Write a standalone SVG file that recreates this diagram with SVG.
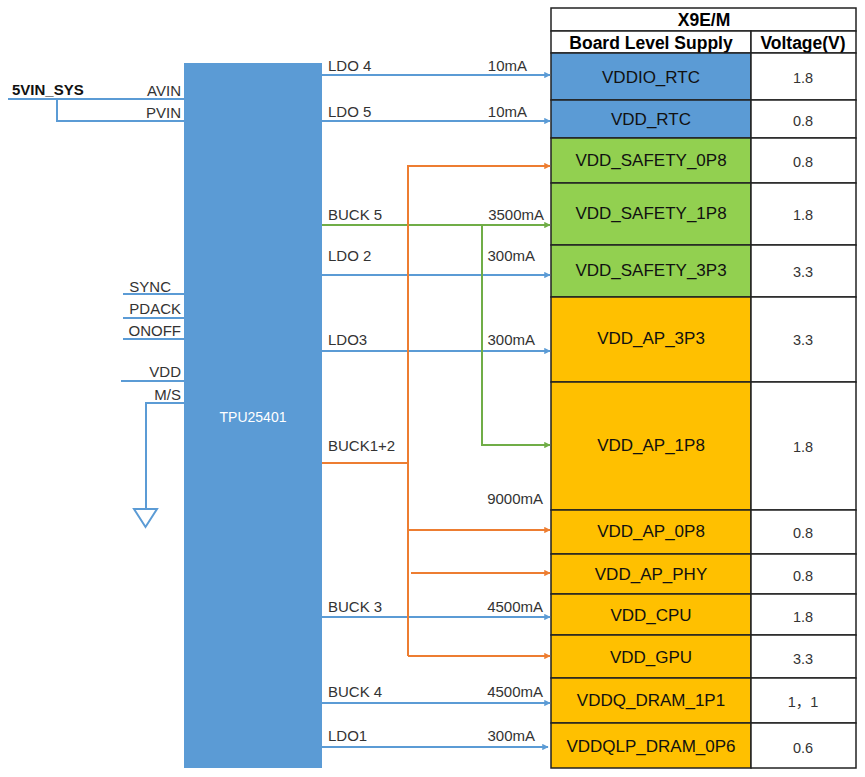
<svg xmlns="http://www.w3.org/2000/svg" width="865" height="777" viewBox="0 0 865 777">
<defs>
<marker id="ab" viewBox="0 0 10 10" refX="9" refY="5" markerWidth="3.2" markerHeight="3.2" orient="auto" markerUnits="strokeWidth"><path d="M0,0 L10,5 L0,10 z" fill="#5B9BD5"/></marker>
<marker id="ao" viewBox="0 0 10 10" refX="9" refY="5" markerWidth="3.2" markerHeight="3.2" orient="auto" markerUnits="strokeWidth"><path d="M0,0 L10,5 L0,10 z" fill="#ED7D31"/></marker>
<marker id="ag" viewBox="0 0 10 10" refX="9" refY="5" markerWidth="3.2" markerHeight="3.2" orient="auto" markerUnits="strokeWidth"><path d="M0,0 L10,5 L0,10 z" fill="#70AD47"/></marker>
</defs>
<style>
text{font-family:"Liberation Sans",Arial,"Noto Sans CJK SC",sans-serif;}
.lbl{font-size:15px;fill:#333;}
.pin{font-size:15px;fill:#333;text-anchor:end;}
.cell{font-size:17px;fill:#111;text-anchor:middle;}
.volt{font-size:14.5px;fill:#333;text-anchor:middle;}
.hdr{font-size:17.5px;font-weight:bold;fill:#000;text-anchor:middle;}
.bl{stroke:#5B9BD5;stroke-width:2;fill:none;}
.or{stroke:#ED7D31;stroke-width:2;fill:none;}
.gr{stroke:#70AD47;stroke-width:2;fill:none;}
.tb{stroke:#222;stroke-width:1.5;}
</style>
<rect width="865" height="777" fill="#fff"/>

<g id="tpu">
<rect x="184" y="63" width="138" height="705" fill="#5B9BD5"/>
<text x="253" y="422" font-size="14" fill="#fff" text-anchor="middle">TPU25401</text>
</g>

<g id="left-pins">
<text x="12" y="95" font-size="15" font-weight="bold" fill="#111">5VIN_SYS</text>
<text class="pin" x="181" y="96">AVIN</text>
<text class="pin" x="181" y="118">PVIN</text>
<text class="pin" x="171" y="292">SYNC</text>
<text class="pin" x="181" y="314">PDACK</text>
<text class="pin" x="181" y="336">ONOFF</text>
<text class="pin" x="181" y="377">VDD</text>
<text class="pin" x="181" y="400">M/S</text>
<polygon points="134,509 157,509 145.5,527" fill="#fff" stroke="#5B9BD5" stroke-width="2"/>
</g>

<g id="table">
<rect x="551" y="8" width="305" height="23" fill="#fff" class="tb"/>
<text class="hdr" x="704" y="26" font-size="18px">X9E/M</text>
<rect x="551" y="31" width="200" height="22" fill="#fff" class="tb"/>
<rect x="751" y="31" width="105" height="22" fill="#fff" class="tb"/>
<text class="hdr" x="651" y="49">Board Level Supply</text>
<text class="hdr" x="803" y="49">Voltage(V)</text>

<g id="r1"><rect x="551" y="53" width="200" height="47" fill="#5B9BD5" class="tb"/><rect x="751" y="53" width="105" height="47" fill="#fff" class="tb"/><text class="cell" x="651" y="83">VDDIO_RTC</text><text class="volt" x="803" y="83">1.8</text></g>
<g id="r2"><rect x="551" y="100" width="200" height="38" fill="#5B9BD5" class="tb"/><rect x="751" y="100" width="105" height="38" fill="#fff" class="tb"/><text class="cell" x="651" y="125">VDD_RTC</text><text class="volt" x="803" y="126">0.8</text></g>
<g id="r3"><rect x="551" y="138" width="200" height="45" fill="#92D050" class="tb"/><rect x="751" y="138" width="105" height="45" fill="#fff" class="tb"/><text class="cell" x="651" y="166">VDD_SAFETY_0P8</text><text class="volt" x="803" y="167">0.8</text></g>
<g id="r4"><rect x="551" y="183" width="200" height="62" fill="#92D050" class="tb"/><rect x="751" y="183" width="105" height="62" fill="#fff" class="tb"/><text class="cell" x="651" y="219">VDD_SAFETY_1P8</text><text class="volt" x="803" y="220">1.8</text></g>
<g id="r5"><rect x="551" y="245" width="200" height="52" fill="#92D050" class="tb"/><rect x="751" y="245" width="105" height="52" fill="#fff" class="tb"/><text class="cell" x="651" y="276">VDD_SAFETY_3P3</text><text class="volt" x="803" y="277">3.3</text></g>
<g id="r6"><rect x="551" y="297" width="200" height="85" fill="#FFC000" class="tb"/><rect x="751" y="297" width="105" height="85" fill="#fff" class="tb"/><text class="cell" x="651" y="344">VDD_AP_3P3</text><text class="volt" x="803" y="345">3.3</text></g>
<g id="r7"><rect x="551" y="382" width="200" height="128" fill="#FFC000" class="tb"/><rect x="751" y="382" width="105" height="128" fill="#fff" class="tb"/><text class="cell" x="651" y="451">VDD_AP_1P8</text><text class="volt" x="803" y="452">1.8</text></g>
<g id="r8"><rect x="551" y="510" width="200" height="44" fill="#FFC000" class="tb"/><rect x="751" y="510" width="105" height="44" fill="#fff" class="tb"/><text class="cell" x="651" y="537">VDD_AP_0P8</text><text class="volt" x="803" y="538">0.8</text></g>
<g id="r9"><rect x="551" y="554" width="200" height="40" fill="#FFC000" class="tb"/><rect x="751" y="554" width="105" height="40" fill="#fff" class="tb"/><text class="cell" x="651" y="580">VDD_AP_PHY</text><text class="volt" x="803" y="581">0.8</text></g>
<g id="r10"><rect x="551" y="594" width="200" height="41" fill="#FFC000" class="tb"/><rect x="751" y="594" width="105" height="41" fill="#fff" class="tb"/><text class="cell" x="651" y="621">VDD_CPU</text><text class="volt" x="803" y="622">1.8</text></g>
<g id="r11"><rect x="551" y="635" width="200" height="43" fill="#FFC000" class="tb"/><rect x="751" y="635" width="105" height="43" fill="#fff" class="tb"/><text class="cell" x="651" y="663">VDD_GPU</text><text class="volt" x="803" y="664">3.3</text></g>
<g id="r12"><rect x="551" y="678" width="200" height="45" fill="#FFC000" class="tb"/><rect x="751" y="678" width="105" height="45" fill="#fff" class="tb"/><text class="cell" x="651" y="706">VDDQ_DRAM_1P1</text><text class="volt" x="803" y="707">1，1</text></g>
<g id="r13"><rect x="551" y="723" width="200" height="45" fill="#FFC000" class="tb"/><rect x="751" y="723" width="105" height="45" fill="#fff" class="tb"/><text class="cell" x="651" y="752">VDDQLP_DRAM_0P6</text><text class="volt" x="803" y="753">0.6</text></g>
</g>

<g id="connectors">
<path class="bl" d="M8,99 H184"/>
<path class="bl" d="M57,99 V121 H184"/>
<path class="bl" d="M123,294 H184"/>
<path class="bl" d="M123,318 H184"/>
<path class="bl" d="M123,339 H184"/>
<path class="bl" d="M121,381 H184"/>
<path class="bl" d="M184,403 H146 V509"/>

<path class="bl" d="M322,75 H550" marker-end="url(#ab)"/>
<path class="bl" d="M322,121 H550" marker-end="url(#ab)"/>
<path class="bl" d="M322,275 H550" marker-end="url(#ab)"/>
<path class="bl" d="M322,351 H550" marker-end="url(#ab)"/>
<path class="bl" d="M322,617 H550" marker-end="url(#ab)"/>
<path class="bl" d="M322,703 H550" marker-end="url(#ab)"/>
<path class="bl" d="M322,747 H548" marker-end="url(#ab)"/>

<path class="gr" d="M322,225 H550" marker-end="url(#ag)"/>
<path class="gr" d="M482,225 V445 H550" marker-end="url(#ag)"/>

<path class="or" d="M322,463 H408"/>
<path class="or" d="M408,656 V166 H550" marker-end="url(#ao)"/>
<path class="or" d="M408,530 H550" marker-end="url(#ao)"/>
<path class="or" d="M411,573 H550" marker-end="url(#ao)"/>
<path class="or" d="M408,656 H550" marker-end="url(#ao)"/>
</g>

<g id="labels">
<text class="lbl" x="328" y="71">LDO 4</text>
<text class="lbl" x="527" y="71" text-anchor="end">10mA</text>
<text class="lbl" x="328" y="117">LDO 5</text>
<text class="lbl" x="527" y="117" text-anchor="end">10mA</text>
<text class="lbl" x="328" y="220">BUCK 5</text>
<text class="lbl" x="544" y="220" text-anchor="end">3500mA</text>
<text class="lbl" x="328" y="261">LDO 2</text>
<text class="lbl" x="535" y="261" text-anchor="end">300mA</text>
<text class="lbl" x="328" y="345">LDO3</text>
<text class="lbl" x="535" y="345" text-anchor="end">300mA</text>
<text class="lbl" x="328" y="451">BUCK1+2</text>
<text class="lbl" x="543" y="504" text-anchor="end">9000mA</text>
<text class="lbl" x="328" y="612">BUCK 3</text>
<text class="lbl" x="543" y="612" text-anchor="end">4500mA</text>
<text class="lbl" x="328" y="697">BUCK 4</text>
<text class="lbl" x="543" y="697" text-anchor="end">4500mA</text>
<text class="lbl" x="328" y="741">LDO1</text>
<text class="lbl" x="535" y="741" text-anchor="end">300mA</text>
</g>
</svg>
